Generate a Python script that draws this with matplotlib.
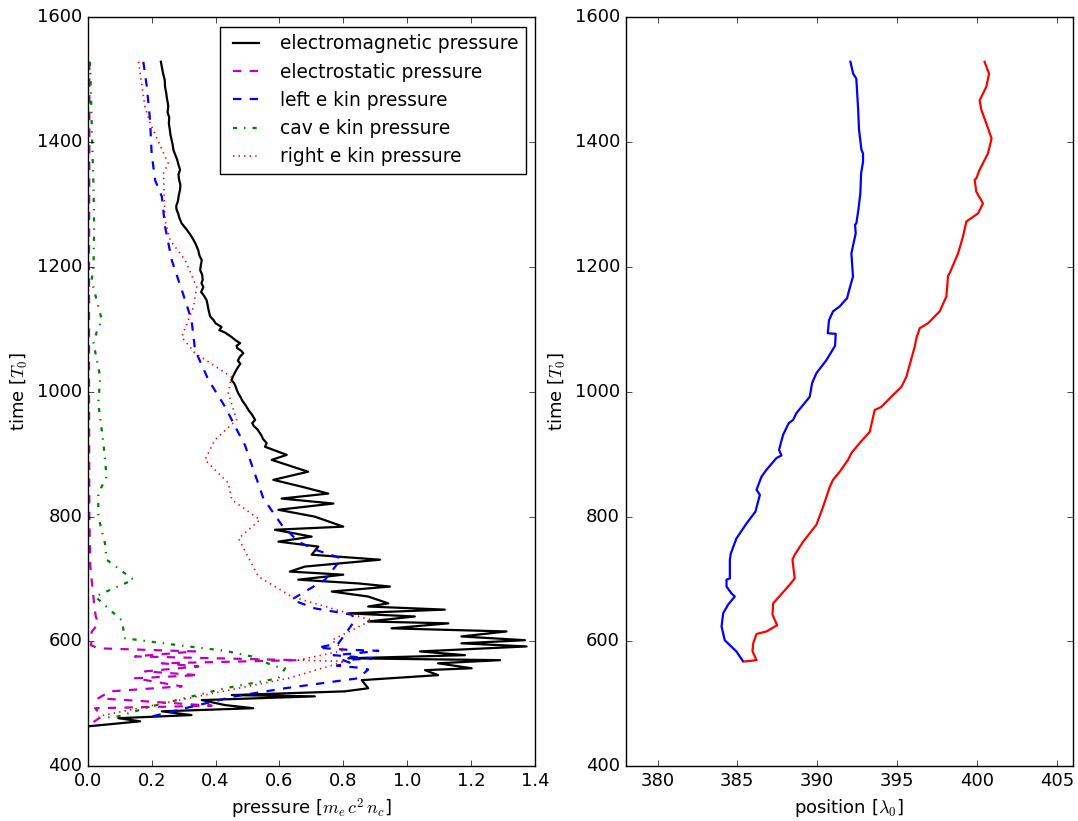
import matplotlib
matplotlib.use('Agg')
import matplotlib.pyplot as plt

plt.style.use('classic')
plt.rcParams['mathtext.fontset'] = 'cm'

# ---- left panel: pressures vs time ----
em_t = [1529, 1518, 1510, 1500, 1489, 1478, 1470, 1462, 1457, 1448, 1440, 1430, 1420, 1412,
        1405, 1396, 1388, 1380, 1372, 1364, 1356, 1348, 1340, 1332, 1324, 1315, 1305, 1298,
        1292, 1286, 1280, 1270, 1260, 1249, 1238, 1227, 1218, 1211, 1203, 1195, 1188, 1180,
        1174, 1168, 1160, 1154, 1147, 1140, 1132, 1121, 1115, 1110, 1104, 1099, 1095, 1088,
        1083, 1078, 1074, 1070, 1066, 1062, 1056, 1050, 1045, 1040, 1035, 1030, 1025, 1019,
        1014, 1010, 1004, 998, 992, 985, 978, 971, 963, 955, 950, 945, 940, 934, 929, 925,
        918, 912, 899, 891, 872, 859, 848, 837, 829, 821, 811, 800, 784, 779, 768, 760,
        752, 739, 731, 720, 712, 707, 699, 693, 688, 680, 672, 661, 656, 651, 645, 640,
        632, 629, 621, 616, 608, 602, 597, 592, 584, 578, 573, 570, 565, 557, 554, 546,
        538, 525, 520, 514, 512, 506, 498, 493, 488, 482, 477, 472, 464, 461]
em_p = [0.229, 0.233, 0.236, 0.241, 0.242, 0.246, 0.248, 0.251, 0.252, 0.250, 0.255, 0.254,
        0.257, 0.259, 0.262, 0.266, 0.268, 0.274, 0.280, 0.284, 0.289, 0.284, 0.286, 0.290,
        0.289, 0.285, 0.282, 0.277, 0.278, 0.283, 0.286, 0.294, 0.310, 0.325, 0.337, 0.346,
        0.350, 0.357, 0.354, 0.352, 0.358, 0.360, 0.356, 0.362, 0.355, 0.364, 0.372, 0.375,
        0.378, 0.383, 0.394, 0.400, 0.419, 0.412, 0.430, 0.450, 0.462, 0.477, 0.466, 0.468,
        0.480, 0.487, 0.476, 0.470, 0.478, 0.471, 0.465, 0.460, 0.455, 0.450, 0.458, 0.462,
        0.466, 0.471, 0.478, 0.485, 0.495, 0.503, 0.515, 0.524, 0.515, 0.520, 0.531, 0.539,
        0.545, 0.548, 0.560, 0.555, 0.623, 0.576, 0.690, 0.581, 0.670, 0.753, 0.607, 0.769,
        0.597, 0.711, 0.800, 0.586, 0.701, 0.597, 0.722, 0.701, 0.915, 0.680, 0.633, 0.800,
        0.659, 0.847, 0.946, 0.764, 0.878, 0.941, 0.878, 1.118, 0.816, 1.024, 0.878, 1.129,
        0.951, 1.311, 1.170, 1.369, 1.170, 1.374, 1.040, 1.181, 0.816, 1.291, 1.097, 1.202,
        1.056, 1.097, 0.858, 0.878, 0.805, 0.451, 0.711, 0.357, 0.430, 0.518, 0.232, 0.325,
        0.096, 0.164, 0.002, 0.0]

es_t = [1529, 1400, 1200, 1000, 800, 720, 700, 680, 660, 640, 629, 615, 600, 594, 589, 584,
        576, 570, 565, 560, 552, 546, 541, 528, 520, 509, 497, 493, 480, 469, 461]
es_p = [0.005, 0.005, 0.004, 0.004, 0.005, 0.008, 0.012, 0.016, 0.020, 0.025, 0.033, 0.012,
        0.012, 0.010, 0.033, 0.336, 0.148, 0.659, 0.232, 0.346, 0.179, 0.346, 0.148, 0.294,
        0.070, 0.033, 0.388, 0.023, 0.044, 0.013, 0.0]

left_t = [1529, 1489, 1436, 1382, 1339, 1313, 1265, 1211, 1164, 1115, 1067, 1019, 976, 934,
          915, 829, 787, 760, 747, 733, 699, 667, 653, 643, 634, 597, 590, 587, 585, 581,
          578, 573, 570, 566, 561, 558, 555, 541, 525, 512, 493, 477]
left_p = [0.174, 0.185, 0.195, 0.200, 0.211, 0.232, 0.242, 0.263, 0.294, 0.325, 0.336, 0.378,
          0.430, 0.472, 0.492, 0.550, 0.607, 0.659, 0.712, 0.795, 0.743, 0.638, 0.711, 0.826,
          0.837, 0.785, 0.720, 0.800, 0.910, 0.840, 0.770, 0.889, 0.800, 0.820, 0.780, 0.847,
          0.878, 0.847, 0.618, 0.461, 0.305, 0.179]

cav_t = [1529, 1480, 1436, 1380, 1329, 1260, 1200, 1179, 1115, 1096, 1078, 1024, 981, 918,
         864, 837, 800, 757, 731, 699, 672, 634, 605, 596, 585, 576, 560, 557, 541, 525,
         496, 480, 477]
cav_p = [0.007, 0.010, 0.012, 0.015, 0.018, 0.020, 0.018, 0.012, 0.044, 0.028, 0.018, 0.039,
         0.033, 0.049, 0.059, 0.033, 0.033, 0.054, 0.059, 0.143, 0.023, 0.106, 0.117, 0.252,
         0.430, 0.513, 0.586, 0.618, 0.597, 0.430, 0.200, 0.096, 0.044]

right_t = [1529, 1457, 1431, 1366, 1350, 1275, 1243, 1211, 1168, 1136, 1088, 1062, 1024, 998,
           955, 923, 891, 854, 827, 795, 765, 704, 672, 634, 602, 586, 570, 568, 541, 480]
right_p = [0.159, 0.179, 0.195, 0.252, 0.237, 0.242, 0.258, 0.305, 0.341, 0.331, 0.294, 0.336,
           0.450, 0.440, 0.466, 0.398, 0.367, 0.440, 0.451, 0.539, 0.472, 0.534, 0.638, 0.889,
           0.764, 0.805, 0.659, 0.805, 0.628, 0.033]

# ---- right panel: boundary positions vs time ----
lpos_t = [1529, 1510, 1502, 1454, 1420, 1388, 1382, 1369, 1350, 1318, 1292, 1270, 1268, 1254,
          1222, 1185, 1163, 1150, 1146, 1137, 1129, 1115, 1094, 1093, 1074, 1051, 1030, 1014,
          992, 966, 955, 950, 931, 907, 898, 894, 875, 864, 843, 835, 808, 789, 765, 741,
          731, 701, 699, 688, 677, 672, 659, 645, 624, 602, 594, 584, 568]
lpos_x = [392.08, 392.25, 392.45, 392.56, 392.62, 392.77, 392.87, 392.87, 392.75, 392.70,
          392.58, 392.45, 392.37, 392.41, 392.14, 392.24, 392.00, 391.87, 391.72, 391.41,
          390.99, 390.74, 390.66, 391.16, 391.12, 390.58, 389.95, 389.68, 389.53, 388.70,
          388.49, 388.22, 387.86, 387.61, 387.76, 387.45, 386.82, 386.51, 386.20, 386.41,
          386.13, 385.57, 384.94, 384.59, 384.53, 384.53, 384.32, 384.32, 384.63, 384.84,
          384.42, 384.11, 384.01, 384.21, 384.53, 384.94, 385.36]

rpos_t = [1529, 1510, 1489, 1467, 1452, 1430, 1406, 1382, 1356, 1342, 1340, 1321, 1302, 1286,
          1273, 1249, 1222, 1190, 1186, 1153, 1129, 1110, 1102, 1086, 1072, 1024, 1008, 995,
          976, 971, 936, 918, 902, 891, 872, 859, 848, 816, 787, 760, 739, 731, 701, 691,
          661, 643, 626, 616, 612, 597, 584, 570, 568]
rpos_x = [400.48, 400.76, 400.59, 400.17, 400.28, 400.59, 400.92, 400.69, 400.17, 399.96,
          399.86, 399.96, 400.38, 400.07, 399.34, 399.13, 398.82, 398.29, 398.19, 398.09,
          397.67, 396.94, 396.42, 396.21, 396.10, 395.58, 395.27, 394.75, 394.02, 393.60,
          393.29, 392.66, 392.14, 391.93, 391.41, 390.99, 390.79, 390.37, 389.95, 389.12,
          388.59, 388.45, 388.59, 388.28, 387.24, 387.20, 387.49, 386.82, 386.20, 385.99,
          385.95, 386.20, 385.47]

fig = plt.figure(figsize=(10.78, 8.21), dpi=100, facecolor='white')
fig.subplots_adjust(left=0.0814, right=0.9951, top=0.9787, bottom=0.0667, wspace=0.2028)
ax1 = fig.add_subplot(1, 2, 1)
ax2 = fig.add_subplot(1, 2, 2)

ax1.plot(em_p, em_t, 'k-', lw=1.6, label='electromagnetic pressure')
ax1.plot(es_p, es_t, 'm--', lw=1.6, label='electrostatic pressure')
ax1.plot(left_p, left_t, 'b--', lw=1.6, label='left e kin pressure')
ax1.plot(cav_p, cav_t, 'g-.', lw=1.6, label='cav e kin pressure')
ax1.plot(right_p, right_t, 'r:', lw=1.2, label='right e kin pressure')
ax1.set_xlim(0, 1.4)
ax1.set_ylim(400, 1600)
ax1.set_xlabel(r'pressure [$m_e\,c^2\,n_c$]', fontsize=13)
ax1.set_ylabel(r'time [$T_0$]', fontsize=13)
ax1.legend(loc='upper right', fontsize=13.4, numpoints=2, handlelength=2.0)

ax2.plot(lpos_x, lpos_t, 'b-', lw=1.6)
ax2.plot(rpos_x, rpos_t, 'r-', lw=1.6)
ax2.set_xlim(378, 406)
ax2.set_ylim(400, 1600)
ax2.set_xticks([380, 385, 390, 395, 400, 405])
ax2.set_xlabel(r'position [$\lambda_0$]', fontsize=13)
ax2.set_ylabel(r'time [$T_0$]', fontsize=13)

for ax in (ax1, ax2):
    ax.tick_params(labelsize=13)

fig.savefig('out.png', dpi=100, facecolor='white')
